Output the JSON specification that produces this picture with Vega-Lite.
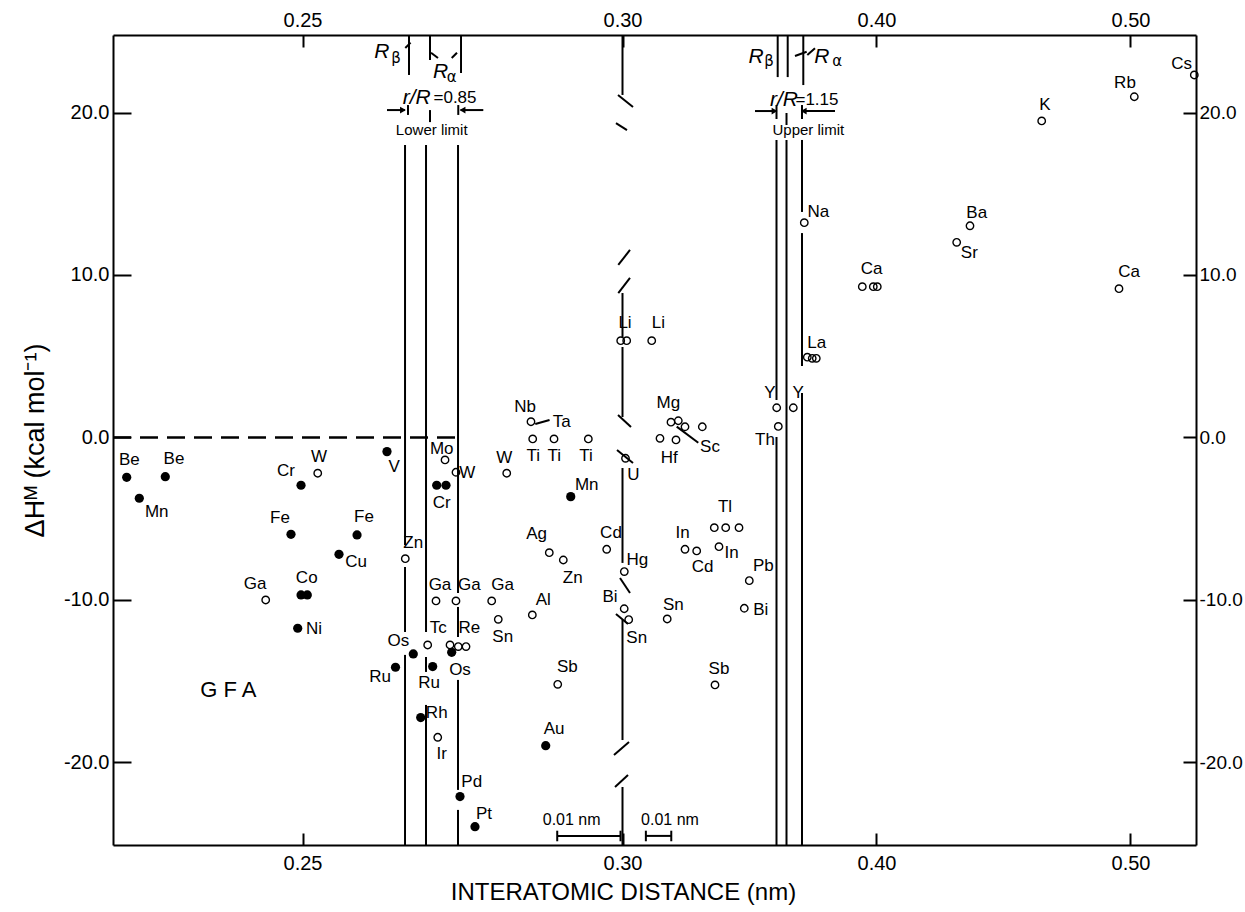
{
  "$schema": "https://vega.github.io/schema/vega-lite/v6.json",
  "width": 1083,
  "height": 810,
  "autosize": "none",
  "padding": {"left": 113, "top": 35, "right": 49, "bottom": 67},
  "background": "white",
  "config": {
    "view": {"stroke": null},
    "font": "Liberation Sans",
    "axis": {
      "grid": false,
      "domainColor": "black",
      "domainWidth": 2,
      "tickColor": "black",
      "tickWidth": 2,
      "labelColor": "black",
      "titleColor": "black",
      "labelFont": "Liberation Sans",
      "titleFont": "Liberation Sans",
      "labelFontSize": 20,
      "titleFontWeight": "normal"
    }
  },
  "datasets": {
    "filled": [
      {"e": "Be", "d": 0.22253, "h": -2.45},
      {"e": "Be", "d": 0.22856, "h": -2.41},
      {"e": "Mn", "d": 0.22450, "h": -3.74},
      {"e": "Cr", "d": 0.24977, "h": -2.94},
      {"e": "V", "d": 0.26320, "h": -0.87},
      {"e": "Fe", "d": 0.24820, "h": -5.96},
      {"e": "Fe", "d": 0.25852, "h": -6.00},
      {"e": "Cu", "d": 0.25570, "h": -7.19},
      {"e": "Co", "d": 0.24977, "h": -9.69},
      {"e": "Co", "d": 0.25075, "h": -9.69},
      {"e": "Ni", "d": 0.24925, "h": -11.74},
      {"e": "Os", "d": 0.26731, "h": -13.32},
      {"e": "Ru", "d": 0.26453, "h": -14.14},
      {"e": "Cr", "d": 0.27097, "h": -2.94},
      {"e": "Cr", "d": 0.27242, "h": -2.94},
      {"e": "Mn", "d": 0.29191, "h": -3.64},
      {"e": "Os", "d": 0.27331, "h": -13.22},
      {"e": "Ru", "d": 0.27034, "h": -14.10},
      {"e": "Rh", "d": 0.26847, "h": -17.24},
      {"e": "Au", "d": 0.28800, "h": -18.97},
      {"e": "Pd", "d": 0.27461, "h": -22.10},
      {"e": "Pt", "d": 0.27695, "h": -23.95}
    ],
    "open": [
      {"e": "W", "d": 0.25238, "h": -2.20},
      {"e": "Zn", "d": 0.26606, "h": -7.46},
      {"e": "Ga", "d": 0.24425, "h": -10.00},
      {"e": "Mo", "d": 0.27227, "h": -1.38},
      {"e": "W", "d": 0.27398, "h": -2.14},
      {"e": "W", "d": 0.28191, "h": -2.20},
      {"e": "Nb-Ta", "d": 0.28570, "h": 0.97},
      {"e": "Ti", "d": 0.28597, "h": -0.09},
      {"e": "Ti", "d": 0.28930, "h": -0.09},
      {"e": "Ti", "d": 0.29466, "h": -0.09},
      {"e": "Ag", "d": 0.28856, "h": -7.09},
      {"e": "Zn", "d": 0.29075, "h": -7.54},
      {"e": "Cd", "d": 0.29753, "h": -6.88},
      {"e": "Hg", "d": 0.30071, "h": -8.25},
      {"e": "U", "d": 0.30118, "h": -1.28},
      {"e": "Ga", "d": 0.27086, "h": -10.06},
      {"e": "Ga", "d": 0.27398, "h": -10.06},
      {"e": "Ga", "d": 0.27956, "h": -10.06},
      {"e": "Sn", "d": 0.28059, "h": -11.19},
      {"e": "Al", "d": 0.28591, "h": -10.92},
      {"e": "Bi", "d": 0.30067, "h": -10.54},
      {"e": "Sn", "d": 0.30244, "h": -11.21},
      {"e": "Sn", "d": 0.31760, "h": -11.17},
      {"e": "Tc", "d": 0.26956, "h": -12.77},
      {"e": "Re", "d": 0.27305, "h": -12.77},
      {"e": "Re", "d": 0.27434, "h": -12.87},
      {"e": "Re", "d": 0.27555, "h": -12.87},
      {"e": "Ir", "d": 0.27113, "h": -18.45},
      {"e": "Sb", "d": 0.28988, "h": -15.19},
      {"e": "Li", "d": 0.29972, "h": 5.96},
      {"e": "Li", "d": 0.30165, "h": 5.96},
      {"e": "Li", "d": 0.31150, "h": 5.96},
      {"e": "Mg", "d": 0.31909, "h": 0.94},
      {"e": "Mg", "d": 0.32197, "h": 1.03},
      {"e": "Mg", "d": 0.32461, "h": 0.66},
      {"e": "Sc", "d": 0.33142, "h": 0.66},
      {"e": "Hf", "d": 0.31476, "h": -0.05},
      {"e": "Hf", "d": 0.32106, "h": -0.15},
      {"e": "Y", "d": 0.36071, "h": 1.83},
      {"e": "Y", "d": 0.36724, "h": 1.83},
      {"e": "Th", "d": 0.36134, "h": 0.68},
      {"e": "La", "d": 0.37276, "h": 4.94},
      {"e": "La", "d": 0.37469, "h": 4.87},
      {"e": "La", "d": 0.37630, "h": 4.87},
      {"e": "Ca", "d": 0.39441, "h": 9.28},
      {"e": "Ca", "d": 0.39874, "h": 9.28},
      {"e": "Ca", "d": 0.40031, "h": 9.28},
      {"e": "Tl", "d": 0.33614, "h": -5.55},
      {"e": "Tl", "d": 0.34063, "h": -5.55},
      {"e": "Tl", "d": 0.34587, "h": -5.55},
      {"e": "In", "d": 0.32461, "h": -6.88},
      {"e": "Cd", "d": 0.32921, "h": -6.98},
      {"e": "In", "d": 0.33799, "h": -6.72},
      {"e": "Pb", "d": 0.34992, "h": -8.81},
      {"e": "Bi", "d": 0.34795, "h": -10.51},
      {"e": "Sb", "d": 0.33642, "h": -15.23},
      {"e": "Na", "d": 0.37157, "h": 13.22},
      {"e": "Ba", "d": 0.43681, "h": 13.03},
      {"e": "Sr", "d": 0.43157, "h": 12.01},
      {"e": "K", "d": 0.46504, "h": 19.48},
      {"e": "Rb", "d": 0.50150, "h": 20.97},
      {"e": "Cs", "d": 0.52512, "h": 22.31},
      {"e": "Ca", "d": 0.49547, "h": 9.16}
    ],
    "labels": [
      {"t": "Be", "d": 0.22294, "h": -1.38},
      {"t": "Be", "d": 0.22992, "h": -1.34},
      {"t": "Mn", "d": 0.22722, "h": -4.57},
      {"t": "Cr", "d": 0.24742, "h": -2.04},
      {"t": "W", "d": 0.25258, "h": -1.18},
      {"t": "V", "d": 0.26434, "h": -1.80},
      {"t": "Fe", "d": 0.24648, "h": -4.97},
      {"t": "Fe", "d": 0.25961, "h": -4.91},
      {"t": "Cu", "d": 0.25836, "h": -7.68},
      {"t": "Zn", "d": 0.26731, "h": -6.51},
      {"t": "Ga", "d": 0.24258, "h": -9.03},
      {"t": "Co", "d": 0.25066, "h": -8.66},
      {"t": "Ni", "d": 0.25180, "h": -11.78},
      {"t": "Os", "d": 0.26497, "h": -12.50},
      {"t": "Ru", "d": 0.26211, "h": -14.76},
      {"t": "Mo", "d": 0.27175, "h": -0.71},
      {"t": "W", "d": 0.27575, "h": -2.20},
      {"t": "Cr", "d": 0.27175, "h": -4.01},
      {"t": "W", "d": 0.28153, "h": -1.28},
      {"t": "Nb", "d": 0.28477, "h": 1.90},
      {"t": "Ta", "d": 0.29050, "h": 0.97},
      {"t": "Ti", "d": 0.28606, "h": -1.14},
      {"t": "Ti", "d": 0.28934, "h": -1.14},
      {"t": "Ti", "d": 0.29430, "h": -1.14},
      {"t": "Mn", "d": 0.29441, "h": -2.92},
      {"t": "Ag", "d": 0.28659, "h": -5.96},
      {"t": "Zn", "d": 0.29222, "h": -8.63},
      {"t": "Cd", "d": 0.29820, "h": -5.85},
      {"t": "Hg", "d": 0.30583, "h": -7.54},
      {"t": "U", "d": 0.30425, "h": -2.31},
      {"t": "Ga", "d": 0.27148, "h": -9.08},
      {"t": "Ga", "d": 0.27606, "h": -9.08},
      {"t": "Ga", "d": 0.28128, "h": -9.08},
      {"t": "Al", "d": 0.28763, "h": -10.00},
      {"t": "Sn", "d": 0.28128, "h": -12.26},
      {"t": "Bi", "d": 0.29805, "h": -9.83},
      {"t": "Sn", "d": 0.30559, "h": -12.36},
      {"t": "Tc", "d": 0.27122, "h": -11.74},
      {"t": "Re", "d": 0.27606, "h": -11.74},
      {"t": "Os", "d": 0.27461, "h": -14.31},
      {"t": "Ru", "d": 0.26977, "h": -15.13},
      {"t": "Rh", "d": 0.27097, "h": -16.94},
      {"t": "Ir", "d": 0.27175, "h": -19.50},
      {"t": "Sb", "d": 0.29138, "h": -14.14},
      {"t": "Au", "d": 0.28930, "h": -17.94},
      {"t": "Pd", "d": 0.27644, "h": -21.18},
      {"t": "Pt", "d": 0.27836, "h": -23.17},
      {"t": "Li", "d": 0.30098, "h": 7.03},
      {"t": "Li", "d": 0.31409, "h": 7.03},
      {"t": "Mg", "d": 0.31803, "h": 2.10},
      {"t": "Sc", "d": 0.33445, "h": -0.57},
      {"t": "Hf", "d": 0.31843, "h": -1.28},
      {"t": "Y", "d": 0.35807, "h": 2.72},
      {"t": "Y", "d": 0.36921, "h": 2.76},
      {"t": "Th", "d": 0.35610, "h": -0.15},
      {"t": "La", "d": 0.37646, "h": 5.83},
      {"t": "Tl", "d": 0.34035, "h": -4.26},
      {"t": "In", "d": 0.32370, "h": -5.90},
      {"t": "In", "d": 0.34299, "h": -7.09},
      {"t": "Cd", "d": 0.33157, "h": -7.99},
      {"t": "Pb", "d": 0.35543, "h": -7.91},
      {"t": "Bi", "d": 0.35441, "h": -10.62},
      {"t": "Sn", "d": 0.32000, "h": -10.31},
      {"t": "Sb", "d": 0.33799, "h": -14.26},
      {"t": "Na", "d": 0.37709, "h": 13.90},
      {"t": "Ca", "d": 0.39811, "h": 10.35},
      {"t": "Ba", "d": 0.43945, "h": 13.83},
      {"t": "Sr", "d": 0.43654, "h": 11.34},
      {"t": "K", "d": 0.46634, "h": 20.46},
      {"t": "Rb", "d": 0.49783, "h": 21.83},
      {"t": "Cs", "d": 0.52016, "h": 22.98},
      {"t": "Ca", "d": 0.49941, "h": 10.20}
    ],
    "italic": [
      {"t": "R", "d": 0.26238, "h": 23.74},
      {"t": "R", "d": 0.27159, "h": 22.51},
      {"t": "R", "d": 0.35256, "h": 23.43},
      {"t": "R", "d": 0.37843, "h": 23.43},
      {"t": "r/R", "d": 0.26784, "h": 20.87},
      {"t": "r/R", "d": 0.36358, "h": 20.77}
    ],
    "subs": [
      {"t": "β", "d": 0.26461, "h": 23.35},
      {"t": "α", "d": 0.27331, "h": 22.20},
      {"t": "β", "d": 0.35768, "h": 23.19},
      {"t": "α", "d": 0.38457, "h": 23.19}
    ],
    "ratio": [
      {"t": "=0.85", "d": 0.27383, "h": 20.87},
      {"t": "=1.15", "d": 0.37657, "h": 20.77}
    ],
    "limits": [
      {"t": "Lower limit", "d": 0.27019, "h": 18.92},
      {"t": "Upper limit", "d": 0.37315, "h": 18.92}
    ],
    "scaletext": [
      {"t": "0.01 nm", "d": 0.29206, "h": -23.54},
      {"t": "0.01 nm", "d": 0.31870, "h": -23.54}
    ],
    "gfa": [
      {"t": "G F A", "d": 0.23841, "h": -15.54}
    ],
    "zero": [
      {"d": 0.22039, "d2": 0.27430, "h": 0}
    ],
    "arrowR": [
      {"d": 0.26570, "h": 20.15},
      {"d": 0.35985, "h": 20.09}
    ],
    "arrowL": [
      {"d": 0.27500, "h": 20.15},
      {"d": 0.37135, "h": 20.09}
    ],
    "segs": [
      {"d": 0.26602, "d2": 0.26602, "h": 18.00, "h2": -6.62},
      {"d": 0.26602, "d2": 0.26602, "h": -7.97, "h2": -11.97},
      {"d": 0.26602, "d2": 0.26602, "h": -13.38, "h2": -25.08},
      {"d": 0.26930, "d2": 0.26930, "h": 18.00, "h2": -11.97},
      {"d": 0.26930, "d2": 0.26930, "h": -13.51, "h2": -14.43},
      {"d": 0.26930, "d2": 0.26930, "h": -16.46, "h2": -25.08},
      {"d": 0.27430, "d2": 0.27430, "h": 18.00, "h2": -9.57},
      {"d": 0.27430, "d2": 0.27430, "h": -10.43, "h2": -12.28},
      {"d": 0.27430, "d2": 0.27430, "h": -14.92, "h2": -21.69},
      {"d": 0.27430, "d2": 0.27430, "h": -22.92, "h2": -25.08},
      {"d": 0.26664, "d2": 0.26664, "h": 24.77, "h2": 22.31},
      {"d": 0.26992, "d2": 0.26992, "h": 24.77, "h2": 23.23},
      {"d": 0.27477, "d2": 0.27477, "h": 24.77, "h2": 22.43},
      {"d": 0.36063, "d2": 0.36063, "h": 18.31, "h2": 2.31},
      {"d": 0.36063, "d2": 0.36063, "h": 0.03, "h2": -25.08},
      {"d": 0.36457, "d2": 0.36457, "h": 18.31, "h2": -25.08},
      {"d": 0.37067, "d2": 0.37067, "h": 18.31, "h2": 13.88},
      {"d": 0.37067, "d2": 0.37067, "h": 12.58, "h2": 4.40},
      {"d": 0.37067, "d2": 0.37067, "h": 2.74, "h2": -25.08},
      {"d": 0.36110, "d2": 0.36110, "h": 24.77, "h2": 22.18},
      {"d": 0.36504, "d2": 0.36504, "h": 24.77, "h2": 22.18},
      {"d": 0.37118, "d2": 0.37118, "h": 24.77, "h2": 21.69},
      {"d": 0.30, "d2": 0.30, "h": 24.77, "h2": 21.08},
      {"d": 0.30, "d2": 0.30, "h": 8.89, "h2": 6.18},
      {"d": 0.30, "d2": 0.30, "h": 5.57, "h2": 1.26},
      {"d": 0.30, "d2": 0.30, "h": -1.88, "h2": -7.72},
      {"d": 0.30, "d2": 0.30, "h": -11.23, "h2": -18.62},
      {"d": 0.30, "d2": 0.30, "h": -21.51, "h2": -25.08},
      {"d": 0.29930, "d2": 0.30413, "h": 21.08, "h2": 20.34},
      {"d": 0.29898, "d2": 0.30177, "h": 19.35, "h2": 18.92},
      {"d": 0.29934, "d2": 0.30295, "h": 10.62, "h2": 11.54},
      {"d": 0.29934, "d2": 0.30295, "h": 8.89, "h2": 9.82},
      {"d": 0.29930, "d2": 0.30335, "h": 1.38, "h2": 0.65},
      {"d": 0.29914, "d2": 0.30413, "h": -0.77, "h2": -1.57},
      {"d": 0.29961, "d2": 0.30295, "h": -8.65, "h2": -9.57},
      {"d": 0.29898, "d2": 0.30217, "h": -10.86, "h2": -11.48},
      {"d": 0.29867, "d2": 0.30256, "h": -19.54, "h2": -18.74},
      {"d": 0.29883, "d2": 0.30217, "h": -21.51, "h2": -20.77},
      {"d": 0.26320, "d2": 0.26600, "h": 20.15, "h2": 20.15},
      {"d": 0.27825, "d2": 0.27470, "h": 20.15, "h2": 20.15},
      {"d": 0.35217, "d2": 0.36004, "h": 20.09, "h2": 20.09},
      {"d": 0.38366, "d2": 0.37106, "h": 20.09, "h2": 20.09},
      {"d": 0.26648, "d2": 0.26648, "h": 20.46, "h2": 19.85},
      {"d": 0.26992, "d2": 0.26992, "h": 20.15, "h2": 19.41},
      {"d": 0.27434, "d2": 0.27434, "h": 20.46, "h2": 19.85},
      {"d": 0.36063, "d2": 0.36063, "h": 20.46, "h2": 19.60},
      {"d": 0.36457, "d2": 0.36457, "h": 19.97, "h2": 19.23},
      {"d": 0.37067, "d2": 0.37067, "h": 20.46, "h2": 19.60},
      {"d": 0.28980, "d2": 0.29969, "h": -24.52, "h2": -24.52},
      {"d": 0.28980, "d2": 0.28980, "h": -24.20, "h2": -24.85},
      {"d": 0.29969, "d2": 0.29969, "h": -24.20, "h2": -24.85},
      {"d": 0.30920, "d2": 0.31920, "h": -24.52, "h2": -24.52},
      {"d": 0.30920, "d2": 0.30920, "h": -24.20, "h2": -24.85},
      {"d": 0.31920, "d2": 0.31920, "h": -24.20, "h2": -24.85},
      {"d": 0.28637, "d2": 0.28860, "h": 0.83, "h2": 1.08},
      {"d": 0.32134, "d2": 0.32984, "h": 0.665, "h2": -0.32},
      {"d": 0.27008, "d2": 0.27117, "h": 23.68, "h2": 23.35},
      {"d": 0.27331, "d2": 0.27414, "h": 23.35, "h2": 23.68},
      {"d": 0.26606, "d2": 0.26689, "h": 23.97, "h2": 24.30},
      {"d": 0.36791, "d2": 0.37252, "h": 23.48, "h2": 23.74},
      {"d": 0.37276, "d2": 0.37579, "h": 23.54, "h2": 23.95}
    ]
  },
  "encoding": {
    "x": {"field": "d", "type": "quantitative", "axis": null,
      "scale": {"domain": [0.22039, 0.30, 0.52579], "range": [0, 509.5, 1083], "nice": false, "zero": false}},
    "y": {"field": "h", "type": "quantitative", "axis": null,
      "scale": {"domain": [-25.08, 24.77], "nice": false, "zero": false}}
  },
  "layer": [
    {
      "data": {"name": "segs"},
      "mark": {"type": "rule", "color": "black", "strokeWidth": 2},
      "encoding": {"x2": {"field": "d2"}, "y2": {"field": "h2"}}
    },
    {
      "data": {"name": "zero"},
      "mark": {"type": "rule", "color": "black", "strokeWidth": 2.5, "strokeDash": [18, 9]},
      "encoding": {"x2": {"field": "d2"}}
    },
    {
      "data": {"name": "filled"},
      "mark": {"type": "circle", "size": 85, "color": "black", "opacity": 1},
      "encoding": {
        "x": {"field": "d", "type": "quantitative",
          "scale": {"domain": [0.22039, 0.30, 0.52579], "range": [0, 509.5, 1083], "nice": false, "zero": false},
          "axis": {"orient": "bottom", "values": [0.25, 0.30, 0.40, 0.50], "format": ".2f",
            "tickSize": -12, "labelPadding": 20, "title": "INTERATOMIC DISTANCE (nm)",
            "titleFontSize": 24, "titlePadding": 7, "titleX": 510}},
        "y": {"field": "h", "type": "quantitative",
          "scale": {"domain": [-25.08, 24.77], "nice": false, "zero": false},
          "axis": {"orient": "left", "values": [-20, -10, 0, 10, 20],
            "labelExpr": "datum.value < 0 ? '-' + format(-datum.value, '.1f') : format(datum.value, '.1f')",
            "tickSize": -18, "labelPadding": 22, "title": "ΔHᴹ (kcal mol⁻¹)",
            "titleFontSize": 27, "titlePadding": 14}}
      }
    },
    {
      "data": {"name": "open"},
      "mark": {"type": "point", "filled": false, "size": 55, "stroke": "black", "strokeWidth": 1.4, "opacity": 1},
      "encoding": {
        "x": {"field": "d", "type": "quantitative",
          "scale": {"domain": [0.22039, 0.30, 0.52579], "range": [0, 509.5, 1083], "nice": false, "zero": false},
          "axis": {"orient": "top", "values": [0.25, 0.30, 0.40, 0.50], "format": ".2f",
            "tickSize": -12, "labelPadding": 17, "title": null}},
        "y": {"field": "h", "type": "quantitative",
          "scale": {"domain": [-25.08, 24.77], "nice": false, "zero": false},
          "axis": {"orient": "right", "values": [-20, -10, 0, 10, 20],
            "labelExpr": "datum.value < 0 ? '-' + format(-datum.value, '.1f') : format(datum.value, '.1f')",
            "tickSize": -13, "labelPadding": 16, "labelFontSize": 19, "title": null}}
      }
    },
    {
      "data": {"name": "arrowR"},
      "mark": {"type": "point", "shape": "triangle-right", "filled": true, "size": 45, "color": "black", "opacity": 1}
    },
    {
      "data": {"name": "arrowL"},
      "mark": {"type": "point", "shape": "triangle-left", "filled": true, "size": 45, "color": "black", "opacity": 1}
    },
    {
      "data": {"name": "labels"},
      "mark": {"type": "text", "fontSize": 17, "font": "Liberation Sans", "align": "center", "baseline": "middle", "color": "black"},
      "encoding": {"text": {"field": "t"}}
    },
    {
      "data": {"name": "italic"},
      "mark": {"type": "text", "fontSize": 21, "fontStyle": "italic", "font": "Liberation Sans", "align": "center", "baseline": "middle", "color": "black"},
      "encoding": {"text": {"field": "t"}}
    },
    {
      "data": {"name": "subs"},
      "mark": {"type": "text", "fontSize": 15, "font": "DejaVu Sans", "align": "center", "baseline": "middle", "color": "black"},
      "encoding": {"text": {"field": "t"}}
    },
    {
      "data": {"name": "ratio"},
      "mark": {"type": "text", "fontSize": 17, "font": "Liberation Sans", "align": "center", "baseline": "middle", "color": "black"},
      "encoding": {"text": {"field": "t"}}
    },
    {
      "data": {"name": "limits"},
      "mark": {"type": "text", "fontSize": 15, "font": "Liberation Sans", "align": "center", "baseline": "middle", "color": "black"},
      "encoding": {"text": {"field": "t"}}
    },
    {
      "data": {"name": "scaletext"},
      "mark": {"type": "text", "fontSize": 16, "font": "Liberation Sans", "align": "center", "baseline": "middle", "color": "black"},
      "encoding": {"text": {"field": "t"}}
    },
    {
      "data": {"name": "gfa"},
      "mark": {"type": "text", "fontSize": 22, "font": "Liberation Sans", "align": "center", "baseline": "middle", "color": "black"},
      "encoding": {"text": {"field": "t"}}
    }
  ],
  "resolve": {"axis": {"x": "independent", "y": "independent"}}
}
